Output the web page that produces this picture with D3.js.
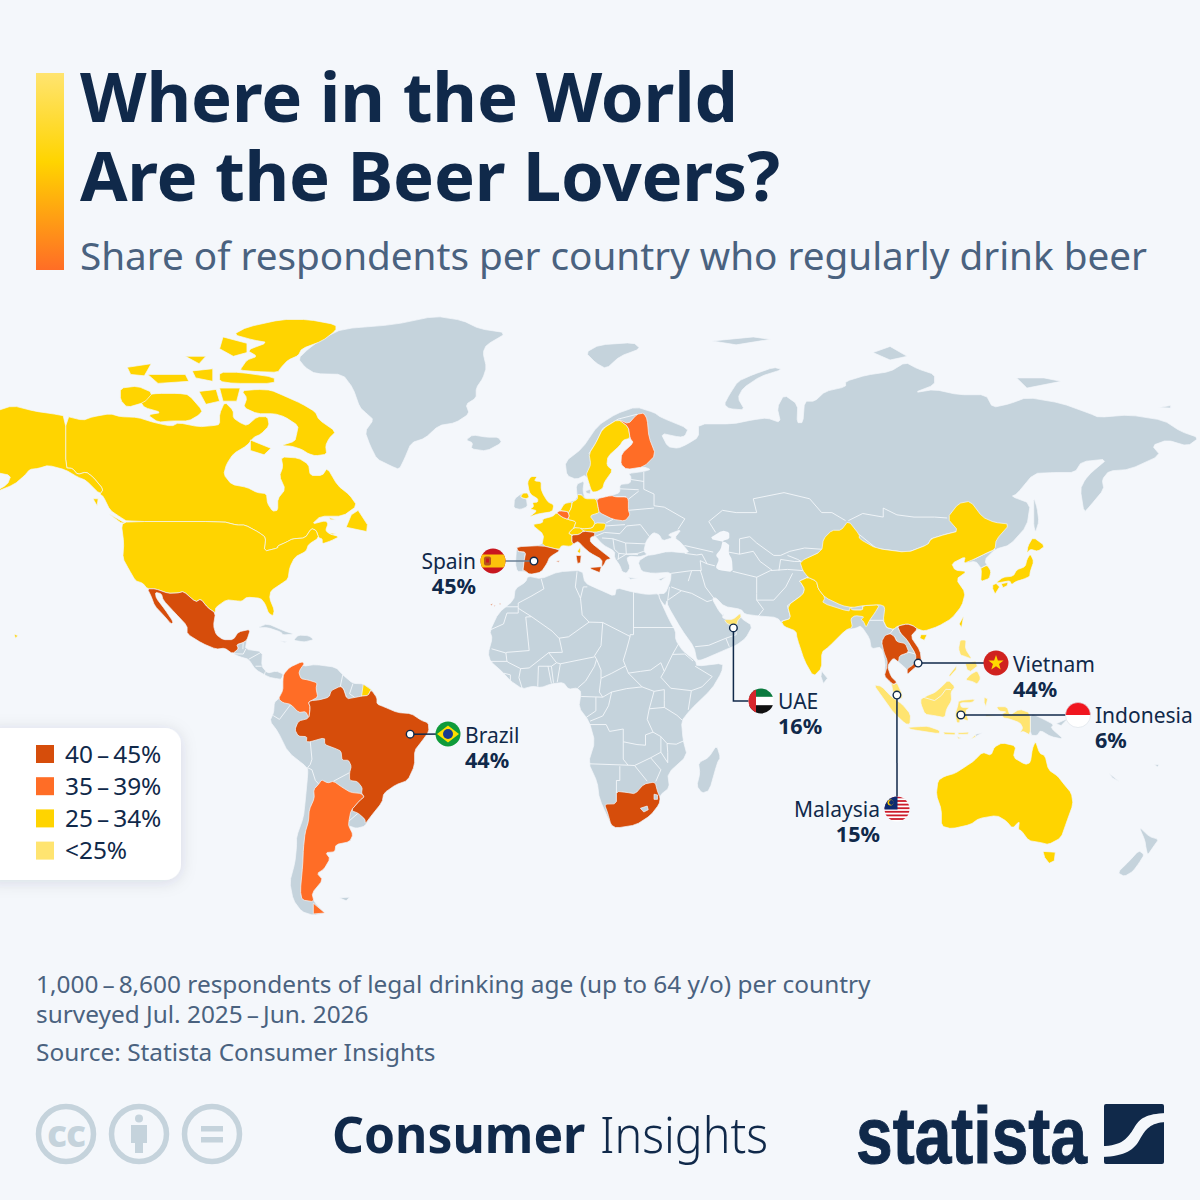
<!DOCTYPE html>
<html><head><meta charset="utf-8">
<script src="https://cdn.jsdelivr.net/npm/d3@7"></script>
<style>html,body{margin:0;padding:0;background:#f4f7fb}svg{display:block}text{font-family:"Noto Sans",sans-serif}</style>
</head><body><svg id="c" width="1200" height="1200" viewBox="0 0 1200 1200"></svg>
<script>
/* ---------- legend / values ---------- */
const tierLabels=["40\u2009–\u200945%","35\u2009–\u200939%","25\u2009–\u200934%","<25%"];
const tierColors=["#d64d0b","#ff6d26","#ffd400","#ffe470"];
const calloutNames=["Spain","Brazil","UAE","Vietnam","Malaysia","Indonesia"];
const calloutShares=["45%","44%","16%","44%","15%","6%"];
const calloutLon=[-4.1,-40.3,54.2,108.2,102,120.7];
const calloutLat=[39.6,-8.8,21.9,11.9,2.6,-3.2];

/* ---------- country shapes, lon/lat flat lists ---------- */
const EURASIA=[-9.2,43.1,-1.8,43.4,-1.2,46,-4.7,48.3,-1.6,48.7,-1.5,49.6,1.5,50.2,3.5,51.4,4.8,53,8.6,53.9,8.2,57,10.6,57.7,10.2,55.8,10.8,54,14.2,54,18.5,54.7,21,55.3,21,57,24,57.2,24.3,58.5,23.5,59.2,28,59.6,30,60,28,60.5,23,60,21.3,61,21.5,63,25,65,24,65.8,22,65.5,21,64.5,17.5,62.5,17.2,60.8,18.9,59.8,16.5,57.5,16,56.2,14.3,55.5,12.8,55.4,11.2,59,8.3,58,5.5,58.8,5,61.5,10,64,14.5,68,20,70,25.7,71.1,31,70.2,33,69.4,41,67.5,40,66.2,38.5,66,33,66.7,35,64.3,38,64,40.5,64.7,44,66,44,68.3,54,68.3,60,69,64,69.3,68,68.5,67,71,69,73,73,71.5,72.8,68.5,74.5,68.5,75,72,78,72,81,73.5,87,74.2,87,75,93,75.9,100,76.4,104.5,77.7,108,76.8,113,76,113,74.5,107,73.3,113,73.8,120,73,128,73,130,71,135,71.6,140,72.6,150,71.7,158.5,70,161,69.4,170,69.8,180,68.9,185,67,190.3,65.9,187,64.4,181,65.5,176.6,64.5,179,62.7,170,60,164,59.7,162,58,162.5,56,158.5,52.5,156.7,51,155.6,56,157,58,159,59.5,163.5,62,156,61.5,154,59.4,148,59.4,142,59.2,137,55,135.5,54.5,141,53,140,48,135,43.5,130.7,42.5,127.5,39.8,129.5,37,129,35.2,126.5,34.4,126.7,37.7,125,39.6,121.5,39,122,40.7,118,39,119,37.3,122.5,37,119.3,35,122,31.5,121,28,118,24.5,114,22.3,110,21,108,21.6,106,19.5,108.8,15.5,109.2,12,107,10.4,105,8.6,105,10,102.5,12.2,100.9,13.4,99.2,11,100.3,8,102,6.3,103.5,3,103.5,1.4,101,3,100.3,6,98.3,8.2,98.6,12,97.5,16.5,94.5,16,94,19,91.5,22.5,90,21.8,87,21.3,82,16.5,80,15,80,10.5,77.6,8,75,12.5,72.8,19,72.5,21,69,22.3,67,24.8,61.5,25.2,57.5,25.7,56.5,27,51.5,27.8,49,30.2,48,29.8,50,26.5,51.5,25,51.3,26.1,51,24.5,54,24.2,56.3,26,56.5,24.5,59.8,22.5,57.8,19,55,17,52,15.8,45,12.8,43.5,12.7,42.7,16.5,39,21.5,35,28,34.8,29.5,34.3,27.8,32.6,29.9,32.3,31.2,34.3,31.3,35.8,34.5,36,36.8,30.5,36.5,27.3,37,26.3,39.5,29,41,31,41.2,35,42,41.5,41.5,39,44,37,45.2,39,47.2,35,46,36.5,45.3,33.5,44.5,32.5,46,30.7,46.5,28.7,44.5,28,42,29,41.2,26.5,40.6,24,40.8,23,40.3,24,38,23,36.5,21.7,36.9,21,38.5,19.4,40.5,19.5,42,16,43.6,13.7,45.7,12.4,45.3,12.4,44.2,16,41.8,18.5,40.2,17,39.9,16.5,38.9,15.7,38,15.8,40,12.3,41.6,10.5,42.9,8.8,44.4,6.5,43.2,4,43.4,3.2,42,0.5,40.6,-0.3,39,-2,36.8,-5.3,36.2,-6.8,37,-9,37,-9.5,38.8];
const AFRICA=[-5.9,35.8,-2,35.1,3,36.9,10,37.3,10.8,34,15,32.3,19.5,30.5,20,32.8,25,31.6,29,31,32.3,31.2,32.6,29.9,35.5,24,37.3,21,37.3,18.5,39.5,15.3,43.2,12.5,43.5,11,51.2,11.9,50.8,9.3,47.9,4.4,41.5,-1.8,39,-5,39.5,-10.5,40.7,-15,35,-20,35.5,-24,32.8,-26,32.5,-28.5,30,-31.5,25.7,-34,20,-34.8,18.4,-34,15,-27,14.4,-22.5,11.8,-17,13.7,-11,12,-5,9,-1,9.7,3.5,8.5,4.7,6,4.3,4.5,6.3,1,5.9,-2,4.8,-4.5,5.2,-7.5,4.4,-11,6.8,-13.5,9.5,-16.8,12.4,-17.5,14.7,-16.3,19,-17,21,-14.5,26,-10,29.5,-9.6,32.5,-6.5,34.3];
const S_AMERICA=[-77.3,8.7,-75.5,10.7,-72,12.2,-71.5,11,-68,11.5,-62,10.7,-60,8.5,-57,6,-54,5.9,-51.7,4.5,-50,1.8,-50,0,-48,-0.8,-44,-2.5,-40,-2.8,-37,-4.8,-35,-5.5,-34.8,-8,-37,-11,-39,-13.5,-39,-17.8,-41,-22,-44.5,-23.2,-48,-25.5,-48.5,-28,-52,-32,-53.5,-34.3,-56,-34.9,-58.3,-34.2,-57,-36.5,-58,-38.3,-62,-39,-62.3,-40.8,-65,-41,-63.7,-42.5,-65.5,-45,-67.5,-46,-65.8,-47.5,-69,-50.5,-68.4,-52.4,-65.2,-54.8,-68.6,-55.3,-72,-54.5,-74.5,-52,-75.5,-48,-74,-43.5,-73.5,-39.5,-73.5,-37,-71.5,-32,-71,-28,-70.2,-20,-70.3,-18.4,-76,-14,-79,-8,-81.3,-5,-80.2,-2.5,-80,0.5,-78.8,1.5,-77.5,4,-77.5,7];
const C_AMERICA=[-92.2,14.6,-90.5,16,-91,17.2,-89.1,17.8,-88,18.5,-88.5,15.9,-83.5,15.2,-83.7,11,-82,9,-79.5,9.6,-77.3,8.7,-77.9,7.2,-80,7.5,-81.5,7.8,-85.5,10,-87.5,13,-90,13.7];
const GREENLAND=[-73,78.2,-71,77,-68,76.1,-60,76,-57,74,-55,71,-53,70,-51,69,-53.5,67,-52,64.5,-50,62,-46,60.7,-43.5,60,-42,62,-40,65,-36,65.8,-32,68,-27,68.5,-23,70,-24,71.5,-21,72.5,-21,74,-19,75.5,-18,77,-19,79,-18,80,-12,81.5,-20,82,-25,83,-33,83.5,-45,82.5,-60,82,-66,80.8,-70,79.5];
const GREY_ISLES=[
 GREENLAND,
 [-24,65.5,-22,66.4,-18,66,-14.5,66,-13.5,65,-18,63.5,-22.5,63.9,-22,65],
 [-10,52,-9.8,54,-8,55,-7.3,55.2,-8,54.5,-7.5,54.2,-6.3,54,-6,52.3,-8,51.7],
 [11,79,15,80,25,80.3,27,79.5,21,78.5,17,76.8,14,77.6],
 [51.5,71.5,53,70.8,57.5,70.6,55.5,72.5,57,74,62,75.7,68.5,76.7,66,77,60,76,55.5,75,53,73],
 [95,79,100,79.8,105,78.5,100,78],[137,75.5,145,75.5,150,75,140,74],[178.5,71,182,71.3,182,70.9],
 [48,80.5,60,81,65,80.7,55,80],[142,54.3,143,52,143.5,49,142.5,46.5,142,48,142,51],
 [80,9.6,81.7,7.5,80.5,6,79.8,8],[49.3,-12,50.4,-15.5,49.5,-17,47.2,-24.8,45,-25.5,43.5,-23.5,44.4,-20,44,-17,47,-15.5],
 [141,-2.6,145,-4.5,147.8,-6,147,-7,150.8,-10.3,147,-9.5,144,-7.7,143,-9.2,141,-9.1],[148.5,-5.8,152,-4.2,150,-6.3],
 [172.8,-34.5,175.8,-37,178.5,-37.7,177,-39.5,175.3,-41.6,174.8,-39.8,174.5,-38],[172.7,-40.5,174.3,-41.5,172.8,-43.5,171,-45.5,168.5,-46.7,166.5,-45.8,170,-43],
 [164,-20,167,-22.3,165,-21.3],[177.3,-17.5,178.6,-17.5,178.2,-18.2],[-61,-51.5,-58,-51.4,-59,-52.2],
 [-85,21.9,-82,23.1,-77,21,-74.2,20.2,-77.5,19.9,-78,20.7,-82,22],[-74.4,18.4,-73,19.9,-69.9,19.7,-68.4,18.6,-71,18,-71.7,18],[-78.3,18.3,-76.3,18,-77,17.8],
 [23.5,35.5,26.3,35.2,24,35],[32.3,35,34.5,35.6,33,34.6],[11,55.7,12.5,56,12.3,55,11.2,55.2],[125,-8.8,127,-8.4,125,-9.5]
];
const LAKES=[[47,45,51,47,53,46.5,53,45,51,44.5,50.5,42.5,49,41,50,40,49,38,50,37.3,54,36.8,53.8,40,52.8,41.5,53,44],[-52,-1.2,-50.5,-0.5,-49.5,-0.2,-50.5,-0.9]];
const BORDERS=[
 [-2,35.1,-1.2,32.5,-5,30.5,-8.7,28.7,-8.7,27.7],[-13.2,27.7,-8.7,27.7,-8.7,26,-12,26,-13,23,-17,21.3],[-8.7,27.3,-4.8,25,-6.5,24.9,-5.5,15.5,-12,15,-12.3,14.8],[-16.5,16,-12.3,14.8,-12,12.4],
 [-4.8,25,1.2,21,3.2,19,6,19.4,12,23.5,10,25.5,9.5,30,10.3,33,11.5,33],[8.5,37,8,33,9.5,30],[25,31.6,25,20,24,20,24,19.5,16,23.4,12,23.5],[25,22,36.8,22],[16,23.4,15.5,16.9,13.6,14,14.2,13,15.5,9.9,15.5,7.5,18.5,8.9,22.5,11],[24,19.5,22.9,15.6,22,12.7,23.5,9],
 [23.5,9,27,9.5,30,9.9,33,12,34,9.5],[23.5,9,27.5,5,31,3.7,34,4.2],[34,9.5,33,7.8,35.9,4.6,41.9,3.9,41,-1.7],[34,9.5,36.4,14.4,38.5,18],[36.4,14.4,40,14.5,42.4,12.5],[43,11,48,8,45,5,41.9,3.9],[34,4.2,34,1,34,-1,37.7,-3.3,39.2,-4.7],[31,3.7,29.6,-1.4,34,-1],[29.6,-1.4,29,-4.5,30.7,-8.2,33,-9.5,34.8,-11.5,37.5,-11.7,40.4,-10.4],
 [30.7,-8.2,28.5,-9,28.5,-12,26,-11.8,22,-11,22,-16,23.4,-17.7],[12.3,-6,17,-6,18,-8,22,-7.3,22,-11],[12.3,-5,16,-3.5,17.7,-0.5,18.6,3.5,23,4.5,27.5,5],[15,3.5,16,2,18.6,3.5],[9.7,2.2,16,2],[14,2,14,-2,11.2,-3.9],[15.5,7.5,15,3.5],
 [8.7,4.7,11,6.7,13.6,11,14.2,13],[3.6,11.7,13.6,13.7],[2.7,6.4,3.6,11.7],[1.6,6.2,1,11],[1,6,0,11],[-3,5.1,-2.8,11,1,11,2.5,12,0.2,14.9,-5.5,10.5],[-5.5,10.5,-8,10.3,-8.5,7.7,-7.5,4.4],[-13,9,-11,8.5,-11,7],[-16.8,12.4,-12,12.4,-11.4,12,-8,10.3],[3.3,19,4.2,15,0.2,14.9],[2.5,12,3.6,11.7],
 [11.8,-17.3,23.4,-17.7,25.3,-17.8,29,-22.2],[21,-18,21,-22,20,-22,20,-28.4],[25.3,-17.8,30,-15.6,33,-14,33,-9.5],[33,-14,35,-17,35,-14,34.8,-11.5],[30,-15.6,33,-19,31.5,-22.3],
 [34.9,29.4,39,32,42,31.3,46.5,29.1,48,29.5],[48.5,30,46,33,45,36,44.5,37.3],[36,36.5,42,37.2,44.8,37.2,44.5,39.7],[40,41.5,43.5,41.1,45,41.3,46.5,38.9],[39.9,43.4,48.3,41.8],[44.5,39.7,46.5,38.9,48.8,38.4],[36,33,39,32],[41,34.5,42,37.2],[35,29.5,35.5,33],[43,16.6,47,17,52,19,55,20,55,22],[52,19,53,16.6],
 [54,37,61,35.5,61,31.3,61,29.5,63,27,61.5,25.2],[61,29.5,66,29.5,69.5,33,71.5,36.5],[61,35.5,65,37.2,70,37.5,74.5,37.2],[52.8,41.8,56,41.3,56,45,59,45.5,61,44,66,41,68,41,70.7,42,75,42.8,80,42.5],[56,41.3,60,42,62,39.5,65.5,37.3],[67.5,37.2,68,40,72,39.5,74,39.5],[70,41,73,40,74,39.5],[76,40.3,80,42],
 [49,46.5,47,49,51,51.5,55,51,61,51,60,54,69,55.3,76.5,54,80,51,83,51,87,49.2],[87.8,49.2,92,50.8,98,50,98,52,102,50.5,107,50,113,50,116.7,49.8],[68.2,23.7,71,24.5,70,28,74.5,31,75,32.5,74,34,73.5,34.5,76,35.5],
 [28,59.5,28,56,31,55,31,52.5,34,52.2,40,49.6,38,47.2],[23.5,51.5,31,52],[26.5,55.6,23.5,53.9],[21,56.1,26.5,55.9],[24.3,58,28,57.6],[19.8,54.4,22.8,54.4],[23,48,27,48.3,29.7,45.5],[22.7,44,28.5,43.8],[21,46.2,23,48],[17,48,22.5,48.3],[17,48.7,19,49.5],[16.5,46.5,21,46.2],[13.6,45.5,16.5,46.5],[19,45,22.7,44],[22.9,41.3,26.3,41.5,28,42],[20.3,40,22.9,41.3,26.3,41.2],[19.4,42.5,20.7,41.5,20.5,40],[15.8,45.2,19,45,19.4,42.5],[20.7,41.5,22.9,41.3,22.7,44],[-7.3,37.2,-7,39.5,-6.5,41.8,-8.8,42],[12,63,14,65,16,67.5,20.5,69.1,26,69.9],[8.7,54.9,9.9,54.8],
 [-60,8.5,-60.7,5.2,-59.8,4.5,-58.8,1.5],[-57,6,-58,3,-56.5,1.9],[-80.3,-3.4,-78.5,-4.5,-75.2,-0.1],[-69.5,-11,-69,-16,-69.5,-17.5,-70.3,-18.4,-69,-19,-68,-22,-67,-23],[-58,-19.8,-62.7,-22.2],[-58.2,-33,-55.5,-30.9],[-88.3,16,-89.1,14.5,-92.2,14.6],[-89.1,17.8,-89.2,15.9],[-87.5,13,-83.5,15.2],[-85.5,11,-83.7,11],[-83,8.3,-82.6,9.5],[-77.9,7.2,-77.3,8.7],
 [92.2,23.7,94,24,98,24,99,22,101,21.5,100,20.3,97.5,18],[101,21.5,102.2,22.4,103,20.5,105,18.5,107.5,14.5],[102,18,101.2,19.6],[102.7,14,105.5,15,107.5,14.5],[91,46,96,42.7,105,41.7,111,43.6,112,45,116,46,120,46.8],[126.5,37.8,128.4,38.6],[124.4,40,128,41.5,130.7,42.5],[88.2,27.5,89,27.5],[89,26.8,92,26.8,92,28]
];
const CANADA=[-141,69.6,-136,68.9,-133,69.5,-128,70,-125,69.5,-120,69.4,-115,68.5,-110,67.9,-108,68.5,-102,67.8,-98,68,-96,68.2,-96,70,-94.5,71.9,-92,70.5,-92,69.3,-90,68.5,-88,68,-85,69.5,-82,69.5,-81.5,68,-84,66.5,-86,66,-88,64.5,-92,63,-94,61,-94.8,59,-92.5,57,-88,56.4,-85,55.3,-82.3,55.1,-82,53,-80.5,51.3,-79,51.5,-79,54,-76.8,56,-78.5,58.7,-77.5,60.5,-78,62.4,-73,62.2,-70,61,-69.5,58.8,-66,58.8,-64.5,60.3,-61.5,56.8,-58,54.8,-55.8,52.5,-60,50.2,-66.5,50.2,-69,48.4,-65,49.2,-64.3,48.5,-65,47,-64,46.2,-61,45.5,-63.5,44.5,-66,43.8,-66,45,-67,45.2,-67.8,47,-69.2,47.4,-71,45.2,-74.7,45,-76.5,44.2,-79,43.3,-79,42.8,-83,42,-82.5,45.3,-84.5,46.5,-88.5,48.2,-91,48.2,-95,49,-123,49,-125,50,-128,51.5,-130,54.5,-131,55,-130,56,-133,58.5,-135,59.5,-137.5,59,-139,60.2,-141,60.3];
const CANADA_ISLES=[[-89.5,73.6,-85,73.8,-81,73.7,-77,72.8,-72,71.6,-68,70.3,-67,69,-62,67,-64,65.8,-65,64.5,-64.7,62.9,-68,62.6,-70,63,-72,63.8,-75,64.4,-78,64.5,-74,65.3,-73.5,66.5,-73,68,-77,69.5,-80,70,-85,70,-89,71,-88,72.5],[-117.5,73,-114,73.2,-108,73.2,-105,73,-101,70.5,-102,69.8,-105,68.8,-110,68.8,-114,68.6,-117,69.8,-113,70.2,-118,71,-119,71.8],[-125,72.2,-123,71,-118,71.8,-115.5,73.3,-120,74.3,-125,74],[-90,76.6,-85,76.4,-79,76.3,-78,77,-76,78,-73,78.6,-72,79.5,-66,80.5,-62,81.8,-62,82.5,-70,83.1,-78,83.1,-88,82.2,-92,81.3,-86,80.6,-82,80.3,-88,79.3,-85,78.5,-88,78,-89.5,77],[-96,76.3,-90,76.3,-80,75.6,-80,74.7,-92,74.7,-96,75],[-95,81,-88,80.2,-88,79,-92,78.5,-96,79.5],[-117,76,-106,76,-105,75,-114,74.7],[-102,73.5,-97,73.8,-96,72,-100,71.5],[-96,74,-90,74,-91,72,-95,72],[-87,65.5,-81,64,-83,62.8,-87,63.6],[-59,47.7,-53,46.7,-52.8,48.3,-55.5,51.5,-57.5,50.5],[-128.3,50.7,-123.3,48.5,-125,48.8],[-123,77,-116,77.5,-118,75.8,-122,76],[-104,76.5,-98,76.8,-98,75,-103,75.5],[-106,78.5,-100,78.5,-102,77.5],[-64,46.4,-62,46.2,-63,46],[-64,49.9,-62,49.4,-63.5,49.4],[-133,54,-131.5,54,-131.8,52.5]];
const ALASKA=[-141,69.6,-145,70,-150,70.4,-156.5,71.3,-162,70.3,-166,68.3,-162,66.5,-165,64.5,-161,63.5,-165,61.5,-162,59.5,-157,58.8,-158,57,-163,55,-156,57,-153,58.8,-151.5,60,-149,60.2,-146,60.8,-141,59.9,-137.5,58.5,-135,57.8,-131,55,-130,56,-133,58.5,-135,59.5,-137.5,59,-139,60.2,-141,60.3];
const USA48=[-123,49,-95,49,-91,48.2,-88.5,48.2,-84.5,46.5,-82.5,45.3,-83,42,-79,42.8,-79,43.3,-76.5,44.2,-74.7,45,-71,45.2,-69.2,47.4,-67.8,47,-67,45.2,-70,43.7,-70.7,42,-74,40.6,-75.5,38,-76,35,-78,33.8,-81,32,-81.4,30,-80,26.8,-80.4,25.2,-81.7,26,-82.7,28.5,-84,30,-88,30.3,-89.5,29.2,-91,29.3,-94,29.6,-97.2,27.5,-97.2,26,-99.5,27.5,-101.5,29.8,-103,29,-106.5,31.8,-108.2,31.4,-111,31.3,-114.8,32.5,-117.1,32.5,-118.5,34,-120.6,34.6,-122.5,37.5,-124.3,40.3,-124,44,-124.7,48.3];
const HAWAII=[-156,20.2,-155,19.7,-155.7,19];
const MEXICO=[-117.1,32.5,-114.8,32.5,-111,31.3,-108.2,31.4,-106.5,31.8,-103,29,-101.5,29.8,-99.5,27.5,-97.2,26,-97.8,22.5,-97,20,-95,18.6,-92,18.6,-90.5,20.8,-87,21.5,-88,18.5,-89.1,17.8,-91,17.2,-90.5,16,-92.2,14.6,-94.5,16.2,-97,15.9,-101,17.5,-105.5,20.2,-105.5,22.5,-109,26,-112.5,29.5,-113,31.2,-114.8,31.6,-114.5,30,-112,27,-109.5,23.5,-110.2,23,-112,25,-115,28,-116,30.5];
const BRAZIL=[-60.7,5.2,-59.8,4.5,-58.8,1.5,-56.5,1.9,-54.5,2.3,-52.6,2.5,-51.7,4.2,-50,1.8,-50,0,-48,-0.8,-44,-2.5,-40,-2.8,-37,-4.8,-35,-5.5,-34.8,-8,-37,-11,-39,-13.5,-39,-17.8,-41,-22,-44.5,-23.2,-48,-25.5,-48.5,-28,-52,-32,-53.4,-33.7,-53.5,-32.5,-55.5,-30.9,-57.6,-30.2,-55,-27.5,-53.7,-26.5,-54.5,-25.5,-54.3,-24,-55.7,-22.3,-58,-22,-58,-19.8,-57.5,-18,-58.3,-16.3,-60.2,-16.3,-60.5,-13.7,-62,-13,-65.3,-11.8,-65.3,-9.8,-69.5,-11,-70.6,-11,-70.5,-9.5,-73,-9.4,-74,-7.5,-73,-5,-69.9,-4.2,-69.5,-1,-70,0.5,-69.2,1,-66.9,1.2,-64,2,-63.4,3.9];
const COLOMBIA=[-77.3,8.7,-75.5,10.7,-72,12.3,-71.2,11.8,-72.5,10,-72.8,9,-72.2,7.4,-70.1,7,-67.5,6.2,-67.8,4.5,-67.3,2,-69.2,1,-70,0.5,-69.5,-1,-69.9,-4.2,-70.8,-2.2,-72.9,-2.5,-75.2,-0.1,-77.5,0.4,-78.8,1.5,-77.5,4,-77.5,7];
const ARGENTINA=[-66.2,-21.8,-64.4,-22.7,-62.7,-22.2,-60,-24,-57.7,-25.3,-54.6,-25.6,-53.7,-26.5,-55,-27.5,-57.6,-30.2,-58.2,-33,-58.3,-34.2,-57,-36.5,-58,-38.3,-62,-39,-62.3,-40.8,-65,-41,-63.7,-42.5,-65.5,-45,-67.5,-46,-65.8,-47.5,-69,-50.5,-68.4,-52.4,-71.9,-52,-72.4,-50,-71.7,-44,-71.5,-40,-71,-36,-70,-33,-69.8,-30,-68.3,-26.9,-68.5,-24.5,-67,-23];
const FUEGO_AR=[-68.6,-52.7,-65.2,-54.8,-68.6,-55];
const FR_GUIANA=[-54,5.8,-51.7,4.2,-52.6,2.5,-54.5,2.3];
const UK=[-5.5,50,-3,50.7,1.3,51.2,1.7,52.7,0,53.3,-1.3,54.8,-2,56,-2,57.6,-4,57.7,-3.2,58.6,-5,58.6,-6,57.5,-5.5,55.5,-4.8,54.8,-3,54,-3,53.3,-4.5,53.2,-4.2,52.3,-5.2,51.8,-3.2,51.4];
const N_IRELAND=[-8,54.5,-7.3,55.2,-6,55.2,-5.5,54.4,-6.3,54,-7.5,54.2];
const SPAIN=[-9.2,43.1,-1.8,43.4,3.2,42.4,3.2,42,0.5,40.6,-0.3,39,-2,36.8,-5.3,36.2,-6.8,37.2,-7.3,37.2,-7,39.5,-6.5,41.8,-8.8,42];
const SPAIN_ISLES=[[2.4,39.6,3.4,39.7,3,39.3],[-16.8,28.4,-16.2,28.5,-16.5,28],[-15.8,28.2,-15.4,28,-15.7,27.8],[-14.2,28.6,-13.8,28.7,-14,28.2]];
const FRANCE=[-1.8,43.4,-1.2,46,-4.7,48.3,-1.6,48.7,-1.5,49.6,1.5,50.2,2.5,51,4.1,50,5.8,49.5,8.2,49,7.6,47.6,6,46.3,7,45.9,7,44.2,7.5,43.8,6.5,43.2,4,43.4,3.2,42.4];
const CORSICA=[9.4,43,9.5,42,9.2,41.4,8.6,42];
const BELGIUM=[2.5,51,3.5,51.4,5.8,51.2,6.2,50.3,5.8,49.5,4.1,50];
const NETHERLANDS=[3.5,51.4,4.8,53,7.1,53.3,6.8,52,5.9,50.8,5.8,51.2];
const GERMANY=[6.2,50.3,5.9,50.8,6.8,52,7.1,53.3,8.6,53.9,8.7,54.9,9.9,54.8,10.8,54,14.2,54,14.7,52,15,51,12.2,50.3,13.8,48.7,13,47.5,10.2,47.3,7.6,47.6,8.2,49,5.8,49.5];
const SWITZERLAND=[6,46.3,7.6,47.6,9.6,47.5,10.4,46.8,9,46,7,45.9];
const AUSTRIA=[9.6,47.5,10.2,47.3,13,47.5,13.8,48.7,17,48.6,16.5,47,13.7,46.5,10.4,46.8];
const ITALY=[7,45.9,9,46,10.4,46.8,13.7,46.5,13.6,45.7,12.4,45.3,12.4,44.2,16,41.8,18.5,40.2,17,39.9,16.5,38.9,15.7,38,15.8,40,12.3,41.6,10.5,42.9,8.8,44.4,7.5,43.8,7,44.2];
const SICILY=[12.5,38,15.6,38.2,15.1,36.7,12.5,37.6];
const SARDINIA=[8.2,41,9.7,41,9.5,39.2,8.6,39];
const POLAND=[14.2,54,18.5,54.7,19.8,54.4,22.8,54.4,23.5,53.9,23.5,51.5,24,50.5,22.5,49.1,19,49.5,15,51,14.7,52];
const SWEDEN=[11.2,59,12.8,55.4,14.3,55.5,16,56.2,16.5,57.5,18.9,59.8,17.2,60.8,17.5,62.5,21,64.5,22,65.5,24,65.8,23.5,67.8,20.5,69.1,16,67.5,14,65,12,63,12.5,61,11.5,59.5];
const FINLAND=[24,65.8,25,65,21.5,63,21.3,61,23,60,28,60.5,31.5,62.8,29.5,66,29,69.1,28,70.1,26,69.9,23.5,68.3,20.5,69.1,23.5,67.8];
const INDIA=[73.5,34.5,76,35.5,78.5,34.5,79,32.5,81,30.2,80.2,28.7,88,26.4,88.2,27.5,89,26.8,92,26.8,92,28,97,28.3,95.5,26,94,24,93,22,92.2,23.7,91.5,24.2,92.4,25,89.8,25.3,88.5,24.5,89,22,87,21.3,82,16.5,80,15,80,10.5,77.6,8,75,12.5,72.8,19,72.5,21,69,22.3,68.2,23.7,71,24.5,70,28,74.5,31,75,32.5,74,34];
const CHINA=[73.6,39.5,80,42,80.5,45,83,47,85.7,47,87.8,49.2,91,46,91,45,96,42.7,105,41.7,111,43.6,112,45,116,46,120,46.8,116.7,49.8,120,53,123.5,53.5,127,50,130.5,48.8,135,48.4,131,44.8,130.7,42.5,128,41.5,124.4,40,121.5,39,122,40.7,118,39,119,37.3,122.5,37,119.3,35,122,31.5,121,28,118,24.5,114,22.3,110,21,108,21.6,106.7,22.5,105,23,102.2,22.4,101,21.5,99,22,98,24,98.5,27.7,97,28.3,92,28,89,27.5,86,28,81,30.2,79,32.5,78.5,34.5,76,35.5,74.5,37.2];
const TAIWAN=[121.5,25.2,120.9,22,120.2,23];
const HAINAN=[109,20,110.8,20,110,18.4,108.7,19];
const S_KOREA=[126.5,37.8,128.4,38.6,129.5,37,129,35.2,126.5,34.4,126.7,37];
const JAPAN=[[140,41.6,140.3,43.3,141.8,45.4,145.3,43.3,143.2,42,141,42.5],[130.9,34,133,35.5,136,35.8,137,37.4,139.5,38.2,140,40,141,41.4,142,39.5,141,37,140.8,35.7,139,35,136.8,34.4,135.5,33.6,135,34.6,132.5,34.2],[130,33.5,131,33.9,132,33,130.7,31.1,130,32.5],[132.5,33.8,134.5,34.2,134.2,33.3,133,32.8]];
const VIETNAM=[102.2,22.4,105,23,106.7,22.5,108,21.6,106,19.5,108.8,15.5,109.2,12,107,10.4,105,8.6,105,10.3,106.5,11.2,107.5,12.5,107.5,14.5,105,18.5,103,20.5];
const THAILAND=[100,20.3,101.2,19.6,102,18,104.5,17.5,105.5,15,102.7,14,102.5,12.2,100.9,13.4,99.2,11,100.3,8,102,6.3,101,5.7,100,6.5,98.3,8.2,99,10.5,99.2,12.5,98.2,15,97.5,18,98.5,19.8];
const S_AFRICA=[16.5,-28.5,20,-28.4,20,-25,23,-25.3,25.5,-25.7,28,-23,31.3,-22.4,32,-25,32.8,-26.8,32.5,-28.5,30,-31.5,25.7,-34,20,-34.8,18.4,-34,17.5,-31];
const S_AFRICA_GAPS=[[27,-29.6,29,-29,29.3,-30,28,-30.6],[31,-25.8,32,-26,32,-27.2,31,-27.2]];
const UAE=[51.5,24.2,54,24.2,56.3,26,56.4,24.8,55.5,24,55.2,22.7,52.5,22.9];
const AUSTRALIA=[114,-22,113.5,-26,115,-30,115,-34.3,118,-35,123.5,-33.9,126,-32.3,131.2,-31.5,134,-33,135.8,-34.9,137.8,-33,137.5,-35.2,138.4,-35.5,140.5,-38,144,-38.5,146.3,-39,150,-37.3,151.5,-33.5,153.5,-28.5,153,-25.5,150.8,-23,149,-20.8,146.3,-19,145.3,-15,143.7,-14.3,142.5,-10.8,141.6,-13,141,-17,139.5,-17.5,136,-15.5,136.8,-12.2,132.8,-11.3,130.5,-12.5,129.5,-14.9,127,-14,124.5,-16.5,122.2,-18,119,-20,116,-20.8];
const TASMANIA=[144.7,-40.7,148.3,-40.9,148,-43,146.5,-43.6,145.2,-42.2];
const MALAYA=[100.3,6.3,101,5.7,102,6.2,103.5,3,103.5,1.4,101,3];
const INDO_PHIL=[[109,1.5,111.4,2.7,113,3.3,115,5,117,7,119,5,117.8,3.5,118,1,116.5,-1.5,116,-4,113,-3.4,110.2,-3,109,0],[95.2,5.6,97.5,5.2,100.5,2,103.5,0,106,-3,105.8,-5.9,104.5,-5.8,101,-2.5,98.5,1],[105.2,-6.8,108.5,-6.6,111,-6.5,114.5,-7.7,114.4,-8.7,108.5,-7.8,106,-7.4],[120,1,125,1.5,124,0.4,120.5,0.4,120.8,-1,123.3,-1,122,-2,123,-5,121.5,-4.5,120.4,-3,120.4,-5.5,119.5,-5.5,119,-3,119.8,-0.5],[115.5,-8.2,119,-8.3,119,-9,116,-8.9],[119.8,-8.4,123,-8.2,122.8,-8.8,120,-8.9],[123.5,-10.3,125,-9,125,-9.6],[119.5,-9.5,120.8,-9.9,120,-10.2],[127.5,2,128.5,1.5,128,-0.8,127.5,0.5],[128,-3,130.8,-3.5,128,-3.6],[131,-0.8,134.2,-0.8,135,-3.3,137.8,-1.5,141,-2.6,141,-9.1,139,-8,138,-8.3,138.8,-7,138,-5.5,135,-4.4,133,-4,132.8,-2.8,134,-2.3,132,-2.1],[120.5,18.5,122.2,18.5,122,16,124,13,121.7,13.9,120.6,14.2,120,16],[122,7,123.6,8.7,125.5,9.7,126.5,7.5,125.5,5.8,124,6.6],[122,11.8,125,12.5,125.5,11,123.5,9.5,122.5,10],[117.2,8.4,119.5,11.3,119.3,10,117.5,8]];
const BORNEO_LINE=[109.6,2,113,1,115,2.5,116.3,4.3,117.8,4.2];
const greyLand=[EURASIA,AFRICA,S_AMERICA,C_AMERICA,...GREY_ISLES];
const tierShapes=[
 [MEXICO,BRAZIL,SPAIN,...SPAIN_ISLES,ITALY,SICILY,SARDINIA,VIETNAM,THAILAND,S_AFRICA],
 [COLOMBIA,ARGENTINA,FUEGO_AR,BELGIUM,POLAND,FINLAND],
 [CANADA,...CANADA_ISLES,ALASKA,USA48,HAWAII,FR_GUIANA,UK,N_IRELAND,FRANCE,CORSICA,NETHERLANDS,GERMANY,SWITZERLAND,AUSTRIA,SWEDEN,INDIA,CHINA,TAIWAN,HAINAN,S_KOREA,...JAPAN,AUSTRALIA,TASMANIA],
 [UAE,MALAYA,...INDO_PHIL]
];

/* ---------- scales: Miller cylindrical ---------- */
const BG="#f4f7fb",LAND="#c5d3dc",INK="#10294a",SOFT="#4a627f";
const rad=d=>d*Math.PI/180;
const xS=d3.scaleLinear().domain([0,1]).range([548,744]);
const yS=d3.scaleLinear().domain([0,1]).range([704,508]);
const project=(lon,lat)=>[xS(rad(lon)),yS(1.25*Math.log(Math.tan(Math.PI/4+0.4*rad(lat))))];
const geo=d3.geoPath(d3.geoTransform({point(lon,lat){const p=project(lon,lat);this.stream.point(p[0],p[1]);}}));
const pairs=a=>d3.range(0,a.length,2).map(i=>[a[i],a[i+1]]);
/* rounds the corners of a hand-read outline a little */
const cutCorners=(p,closed,t=0.18)=>{
  const out=[];const n=p.length;
  for(let i=0;i<(closed?n:n-1);i++){
    const a=p[i],b=p[(i+1)%n];
    if(closed||i>0)out.push([a[0]+(b[0]-a[0])*t,a[1]+(b[1]-a[1])*t]);else out.push(a);
    if(closed||i<n-2)out.push([b[0]+(a[0]-b[0])*t,b[1]+(a[1]-b[1])*t]);else out.push(b);
  }
  return out;
};
const ring=a=>{const p=a.length>10?cutCorners(pairs(a),true):pairs(a);p.push(p[0]);return {type:"Polygon",coordinates:[p]};};
const line=a=>({type:"LineString",coordinates:pairs(a)});

const svg=d3.select("#c");
const defs=svg.append("defs");
const grad=defs.append("linearGradient").attr("id","bar").attr("x1",0).attr("x2",0).attr("y1",0).attr("y2",1);
[[0,"#ffe470"],[0.45,"#ffd400"],[1,"#ff6d26"]].forEach(s=>grad.append("stop").attr("offset",s[0]).attr("stop-color",s[1]));
const sh=defs.append("filter").attr("id","shadow").attr("x","-30%").attr("y","-30%").attr("width","160%").attr("height","160%");
sh.append("feDropShadow").attr("dx",0).attr("dy",2).attr("stdDeviation",8).attr("flood-color","#10294a").attr("flood-opacity",0.13);

svg.append("rect").attr("width",1200).attr("height",1200).attr("fill",BG);
svg.append("rect").attr("x",36).attr("y",73).attr("width",28).attr("height",197).attr("fill","url(#bar)");
const T=(s,x,y,size,fill,weight,anchor)=>svg.append("text").text(s).attr("x",x).attr("y",y).attr("font-size",size).attr("fill",fill).attr("font-weight",weight||400).attr("text-anchor",anchor||"start");
T("Where in the World",80,122,68.8,INK,700).attr("textLength",658).attr("lengthAdjust","spacing");
T("Are the Beer Lovers?",80,201,68.8,INK,700).attr("textLength",700).attr("lengthAdjust","spacing");
T("Share of respondents per country who regularly drink beer",80,270,38.7,SOFT).attr("textLength",1067).attr("lengthAdjust","spacing");

/* map */
const map=svg.append("g");
map.append("g").selectAll("path").data(greyLand).join("path").attr("d",d=>geo(ring(d))).attr("fill",LAND).attr("stroke",BG).attr("stroke-width",0.7).attr("stroke-linejoin","round");
map.append("g").selectAll("path").data(BORDERS).join("path").attr("d",d=>geo(line(d))).attr("fill","none").attr("stroke",BG).attr("stroke-width",0.9).attr("stroke-linejoin","round");
map.append("g").selectAll("path").data(LAKES).join("path").attr("d",d=>geo(ring(d))).attr("fill",BG);
tierShapes.slice().reverse().forEach((shapes,i)=>{
  map.append("g").selectAll("path").data(shapes).join("path").attr("d",d=>geo(ring(d))).attr("fill",tierColors[3-i]).attr("stroke",BG).attr("stroke-width",0.7).attr("stroke-linejoin","round");
});
map.append("g").selectAll("path").data(S_AFRICA_GAPS).join("path").attr("d",d=>geo(ring(d))).attr("fill",LAND).attr("stroke",BG).attr("stroke-width",0.7);
map.append("path").attr("d",geo(line(BORNEO_LINE))).attr("fill","none").attr("stroke",BG).attr("stroke-width",0.8);

/* legend */
svg.append("rect").attr("x",-20).attr("y",728).attr("width",201).attr("height",152).attr("rx",16).attr("fill","#fff").attr("filter","url(#shadow)");
tierLabels.forEach((t,i)=>{
  const y=745+i*32.2;
  svg.append("rect").attr("x",36).attr("y",y).attr("width",18).attr("height",18).attr("fill",tierColors[i]);
  T(t,65,y+17.5,24.4,INK);
});

/* callouts */
const dots=calloutNames.map((n,i)=>project(calloutLon[i],calloutLat[i]));
const flagAt=[[493,561],[448,734],[761,701],[996,663],[897,809],[1078,715]];
const leaders=[
 [[...flagAt[0]],[...dots[0]]],
 [[...dots[1]],[...flagAt[1]]],
 [[...dots[2]],[dots[2][0],flagAt[2][1]],[...flagAt[2]]],
 [[...dots[3]],[...flagAt[3]]],
 [[...dots[4]],[...flagAt[4]]],
 [[...dots[5]],[...flagAt[5]]]
];
leaders.forEach((l,i)=>svg.append("path").attr("d",d3.line()(l)).attr("fill","none").attr("stroke",i==0?"#6b8096":INK).attr("stroke-width",1.5));
dots.forEach(d=>svg.append("circle").attr("cx",d[0]).attr("cy",d[1]).attr("r",3.8).attr("fill","#fff").attr("stroke",INK).attr("stroke-width",1.4));

const R=12.5;
function flag(i,draw){
  const [cx,cy]=flagAt[i];
  const id="f"+i;
  defs.append("clipPath").attr("id",id).append("circle").attr("cx",cx).attr("cy",cy).attr("r",R);
  const g=svg.append("g").attr("clip-path",`url(#${id})`);
  const rect=(x,y,w,h,c)=>g.append("rect").attr("x",cx+x).attr("y",cy+y).attr("width",w).attr("height",h).attr("fill",c);
  draw(g,rect,cx,cy);
}
const star=(cx,cy,r)=>d3.range(10).map(k=>{const a=-Math.PI/2+k*Math.PI/5,q=k%2?r*0.4:r;return [cx+q*Math.cos(a),cy+q*Math.sin(a)];});
flag(0,(g,r,cx,cy)=>{r(-13,-13,26,26,"#c8171f");r(-13,-6.5,26,13,"#fcc30b");g.append("rect").attr("x",cx-9).attr("y",cy-4.5).attr("width",7).attr("height",9).attr("rx",2).attr("fill","#b5541c");g.append("rect").attr("x",cx-7).attr("y",cy-2.5).attr("width",3).attr("height",4).attr("fill","#c8171f");});
flag(1,(g,r,cx,cy)=>{r(-13,-13,26,26,"#0f9b3a");g.append("path").attr("d",d3.line()([[cx-11,cy],[cx,cy-8.5],[cx+11,cy],[cx,cy+8.5]])+"Z").attr("fill","#fedf00");g.append("circle").attr("cx",cx).attr("cy",cy).attr("r",5).attr("fill","#1a3c8f");});
flag(2,(g,r)=>{r(-13,-13,26,9,"#0b7a3e");r(-13,-4.2,26,8.4,"#fff");r(-13,4.2,26,9,"#111");r(-13,-13,8,26,"#d8262c");});
flag(3,(g,r,cx,cy)=>{r(-13,-13,26,26,"#d0221f");g.append("path").attr("d",d3.line()(star(cx,cy,8))+"Z").attr("fill","#ffd900");});
flag(4,(g,r,cx,cy)=>{r(-13,-13,26,26,"#fff");d3.range(7).forEach(k=>r(-13,-12.5+k*3.6,26,1.8,"#cc1c2b"));r(-13,-13,13.5,13.5,"#0d2a70");g.append("circle").attr("cx",cx-6.5).attr("cy",cy-6.5).attr("r",3).attr("fill","#ffcc00");g.append("circle").attr("cx",cx-5.5).attr("cy",cy-6.5).attr("r",2.4).attr("fill","#0d2a70");});
flag(5,(g,r)=>{r(-13,-13,26,13,"#f0161f");r(-13,0,26,13,"#fff");});
svg.append("circle").attr("cx",flagAt[5][0]).attr("cy",flagAt[5][1]).attr("r",R).attr("fill","none").attr("stroke","#d9dfe6").attr("stroke-width",0.6);

const nameAt=[[476,569,"end"],[465,743,"start"],[778,709,"start"],[1013,672,"start"],[880,817,"end"],[1095,723,"start"]];
const shareAt=[[476,594,"end"],[465,768,"start"],[778,734,"start"],[1013,697,"start"],[880,842,"end"],[1095,748,"start"]];
calloutNames.forEach((n,i)=>{
  T(n,nameAt[i][0],nameAt[i][1],21,INK,400,nameAt[i][2]);
  T(calloutShares[i],shareAt[i][0],shareAt[i][1],21.6,INK,700,shareAt[i][2]);
});

/* footer */
T("1,000\u2009–\u20098,600 respondents of legal drinking age (up to 64 y/o) per country",36,993,24.4,SOFT);
T("surveyed Jul. 2025\u2009–\u2009Jun. 2026",36,1023,24.4,SOFT);
T("Source: Statista Consumer Insights",36,1061,24.4,SOFT);

const icons=svg.append("g");
[66,139,212].forEach(cx=>icons.append("circle").attr("cx",cx).attr("cy",1134).attr("r",27.5).attr("fill","none").attr("stroke",LAND).attr("stroke-width",5.5));
icons.append("text").text("cc").attr("x",66).attr("y",1147).attr("text-anchor","middle").attr("font-size",38).attr("font-weight",800).attr("fill",LAND).attr("letter-spacing",-1);
icons.append("circle").attr("cx",139).attr("cy",1118.5).attr("r",4).attr("fill",LAND);
icons.append("path").attr("d","M131 1125H147V1143H143V1153H135V1143H131Z").attr("fill",LAND);
icons.append("rect").attr("x",201).attr("y",1126).attr("width",22).attr("height",5.5).attr("fill",LAND);
icons.append("rect").attr("x",201).attr("y",1137).attr("width",22).attr("height",5.5).attr("fill",LAND);

T("Consumer",332,1153,49.8,INK,700);
T("Insights",600,1153,49.8,INK,300).attr("textLength",168).attr("lengthAdjust","spacingAndGlyphs");
svg.append("text").text("statista").attr("x",856).attr("y",1163).attr("font-size",79).attr("font-weight",700).attr("fill",INK).attr("stroke",INK).attr("stroke-width",1).attr("textLength",231).attr("lengthAdjust","spacingAndGlyphs").style("font-family","'Liberation Sans Narrow','Liberation Sans',sans-serif");
svg.append("rect").attr("x",1104).attr("y",1104).attr("width",60).attr("height",60).attr("rx",2).attr("fill",INK);
svg.append("path").attr("d","M1102 1146C1122 1146 1128 1138 1134 1128C1140 1118 1146 1114 1166 1113V1122C1150 1123 1146 1129 1140 1139C1134 1150 1126 1156 1102 1157Z").attr("fill",BG);
</script></body></html>
